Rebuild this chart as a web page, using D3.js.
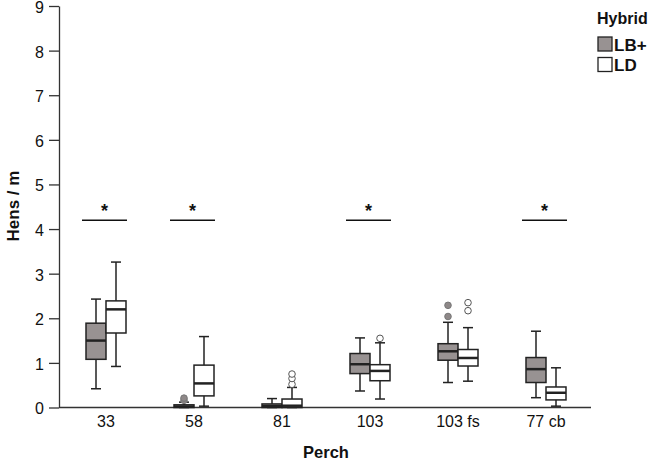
<!DOCTYPE html>
<html><head><meta charset="utf-8">
<script src="https://cdn.jsdelivr.net/npm/d3@7"></script>
<style>body{margin:0;background:#fff}svg{display:block}</style>
</head><body>
<svg id="c" width="653" height="462"></svg>
<script>
const categories = ["33","58","81","103","103 fs","77 cb"];
const series = ["LB+","LD"];
// [whiskerLow, q1, median, q3, whiskerHigh]
const lbStats = [
  [0.42,1.08,1.50,1.89,2.43],
  [0.00,0.00,0.02,0.06,0.12],
  [0.00,0.00,0.03,0.08,0.20],
  [0.37,0.76,0.97,1.21,1.56],
  [0.56,1.06,1.26,1.43,1.91],
  [0.22,0.56,0.86,1.12,1.71]
];
const ldStats = [
  [0.92,1.67,2.20,2.39,3.26],
  [0.03,0.26,0.54,0.95,1.59],
  [0.00,0.00,0.04,0.19,0.45],
  [0.19,0.60,0.82,0.96,1.45],
  [0.59,0.93,1.11,1.30,1.79],
  [0.03,0.17,0.33,0.46,0.89]
];
const lbOutliers = [[],[0.16,0.21],[],[],[2.04,2.29],[]];
const ldOutliers = [[],[],[0.52,0.65,0.75],[1.55],[2.17,2.35],[]];
const significant = [true,true,false,true,false,true];
const yTicks = [0,1,2,3,4,5,6,7,8,9];
const sigLevel = 4.2;
const colors = {"LB+":"#989292","LD":"#ffffff"};

const FONT = "Liberation Sans, Arial, sans-serif";
const svg = d3.select("#c");
const x = d3.scaleBand().domain(categories).range([62,590]);
const y = d3.scaleLinear().domain([0,9]).range([407.5,6]);
const bw = 20;
const ink = "#222";

// y axis
const yAxis = svg.append("g").attr("transform","translate(59,0)")
  .call(d3.axisLeft(y).tickValues(yTicks).tickSize(10).tickSizeOuter(0).tickPadding(5));
yAxis.select(".domain").attr("stroke","#333").attr("stroke-width",1.3);
yAxis.selectAll(".tick line").attr("stroke","#333").attr("stroke-width",1.3);
yAxis.selectAll("text").attr("font-family",FONT).attr("font-size",16).attr("fill","#111").attr("dy","0.4em");

// x axis
svg.append("line").attr("x1",59).attr("x2",591).attr("y1",y(0)).attr("y2",y(0)).attr("stroke","#333").attr("stroke-width",1.3);
const xAxis = svg.append("g").attr("transform",`translate(0,${y(0)})`)
  .call(d3.axisBottom(x).tickSize(0).tickPadding(8));
xAxis.select(".domain").remove();
xAxis.selectAll("text").attr("font-family",FONT).attr("font-size",16).attr("fill","#111");

// boxes
function drawBox(stats, outs, cat, ser, offset){
  const cx = x(cat) + x.bandwidth()/2 + offset;
  const g = svg.append("g");
  const [lo,q1,md,q3,hi] = stats;
  g.append("line").attr("x1",cx).attr("x2",cx).attr("y1",y(lo)).attr("y2",y(hi)).attr("stroke",ink).attr("stroke-width",1.5);
  [lo,hi].forEach(v=>g.append("line").attr("x1",cx-5).attr("x2",cx+5).attr("y1",y(v)).attr("y2",y(v)).attr("stroke",ink).attr("stroke-width",1.5));
  g.append("rect").attr("x",cx-bw/2).attr("width",bw).attr("y",y(q3)).attr("height",Math.max(y(q1)-y(q3),1.5))
    .attr("fill",colors[ser]).attr("stroke",ink).attr("stroke-width",1.5);
  g.append("line").attr("x1",cx-bw/2).attr("x2",cx+bw/2).attr("y1",y(md)).attr("y2",y(md)).attr("stroke",ink).attr("stroke-width",2.5);
  outs.forEach(v=>g.append("circle").attr("cx",cx).attr("cy",y(v)).attr("r",3.3)
    .attr("fill",ser==="LB+"?"#8e8888":"#fff").attr("stroke",ser==="LB+"?"#777":"#555").attr("stroke-width",1));
}
categories.forEach((c,i)=>{
  drawBox(lbStats[i], lbOutliers[i], c, "LB+", -bw/2);
  drawBox(ldStats[i], ldOutliers[i], c, "LD", bw/2);
});

// significance
categories.forEach((c,i)=>{
  if(!significant[i]) return;
  const cx = x(c)+x.bandwidth()/2 - 1.5;
  svg.append("line").attr("x1",cx-22.5).attr("x2",cx+22.5).attr("y1",y(sigLevel)).attr("y2",y(sigLevel)).attr("stroke","#111").attr("stroke-width",1.5);
  svg.append("text").attr("x",cx).attr("y",y(sigLevel)-3).attr("text-anchor","middle")
    .attr("font-family",FONT).attr("font-weight","bold").attr("font-size",18).attr("fill","#111").text("*");
});

// axis titles
svg.append("text").attr("x",326).attr("y",458).attr("text-anchor","middle")
  .attr("font-family",FONT).attr("font-weight","bold").attr("font-size",16.5).attr("fill","#111").text("Perch");
svg.append("text").attr("transform","translate(18.5,206) rotate(-90)").attr("text-anchor","middle")
  .attr("font-family",FONT).attr("font-weight","bold").attr("font-size",17).attr("fill","#111").text("Hens / m");

// legend
svg.append("text").attr("x",597).attr("y",24).attr("font-family",FONT).attr("font-weight","bold").attr("font-size",16).attr("fill","#111").text("Hybrid");
series.forEach((s,i)=>{
  const yy = 37 + i*20.5;
  svg.append("rect").attr("x",598).attr("y",yy).attr("width",14).attr("height",14).attr("fill",colors[s]).attr("stroke",ink).attr("stroke-width",1.3);
  svg.append("text").attr("x",614).attr("y",yy+13.5).attr("font-family",FONT).attr("font-weight","bold").attr("font-size",17).attr("fill","#111").text(s);
});
</script>
</body></html>
